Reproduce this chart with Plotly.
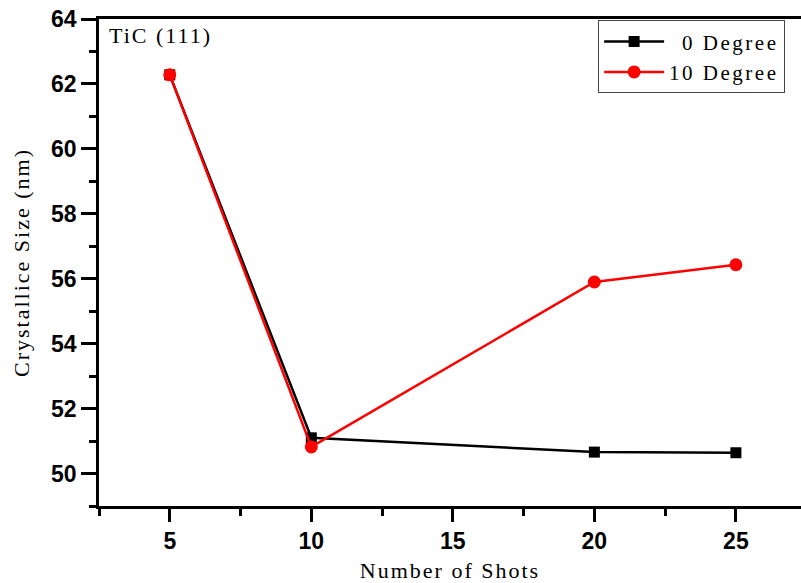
import plotly.graph_objects as go

shots = [5, 10, 20, 25]
deg0 = [62.28, 51.10, 50.66, 50.64]
deg10 = [62.28, 50.82, 55.90, 56.43]

x_ticks = [5, 10, 15, 20, 25]
y_ticks = [50, 52, 54, 56, 58, 60, 62, 64]

fig = go.Figure()
fig.add_trace(go.Scatter(
    x=shots, y=deg0, name="\u20070 Degree", mode="lines+markers",
    line=dict(color="#000000", width=2.5),
    marker=dict(symbol="square", size=11, color="#000000"),
))
fig.add_trace(go.Scatter(
    x=shots, y=deg10, name="10 Degree", mode="lines+markers",
    line=dict(color="#ff0000", width=2.5),
    marker=dict(symbol="circle", size=13, color="#ff0000"),
))

tickfont = dict(family="Liberation Sans", size=23, color="#000000", weight="bold")
serif = "Liberation Serif"

fig.update_layout(
    width=801, height=583,
    margin=dict(l=99, r=0, t=19, b=77),
    plot_bgcolor="white", paper_bgcolor="white",
    showlegend=True,
    legend=dict(
        x=0.711, y=0.997, xanchor="left", yanchor="top",
        bgcolor="white", bordercolor="#444444", borderwidth=1,
        font=dict(family=serif, size=21, color="#000000"),
        itemwidth=60, tracegroupgap=0,
    ),
    xaxis=dict(
        range=[2.5, 27.3], tickmode="array", tickvals=x_ticks,
        ticktext=[str(v) for v in x_ticks], automargin=False,
        showline=True, linecolor="#000000", linewidth=2.5, mirror=True,
        ticks="outside", ticklen=13, tickwidth=2.5, tickcolor="#000000",
        minor=dict(tickmode="linear", tick0=2.5, dtick=5, ticks="outside", ticklen=7, tickwidth=2.5, tickcolor="#000000"),
        showgrid=False, zeroline=False, tickfont=tickfont,
        title=dict(text="Number of Shots", font=dict(family=serif, size=22, color="#000000"), standoff=12),
    ),
    yaxis=dict(
        range=[49, 64], tickmode="array", tickvals=y_ticks,
        ticktext=[str(v) for v in y_ticks], automargin=False,
        showline=True, linecolor="#000000", linewidth=2.5, mirror=False,
        ticks="outside", ticklen=15, tickwidth=2.5, tickcolor="#000000",
        minor=dict(tickmode="linear", tick0=49, dtick=2, ticks="outside", ticklen=7, tickwidth=2.5, tickcolor="#000000"),
        showgrid=False, zeroline=False, tickfont=tickfont,
        title=dict(text="Crystallice Size (nm)", font=dict(family=serif, size=22, color="#000000"), standoff=16),
    ),
    annotations=[dict(
        text="TiC (111)", xref="paper", yref="paper", x=0.012, y=0.995,
        xanchor="left", yanchor="top", showarrow=False,
        font=dict(family=serif, size=22, color="#000000"),
    )],
)

post = """
var gd = document.getElementById('{plot_id}');
var s = document.createElement('style');
s.textContent = '.xtitle, .ytitle {letter-spacing: 2px;} .legendtext {letter-spacing: 2.5px;} .annotation-text {letter-spacing: 2px;}';
document.head.appendChild(s);
Plotly.relayout(gd, {'legend.font.size': 21.01, 'annotations[0].font.size': 22.01});
"""

fig.write_html("out.html", post_script=post)
